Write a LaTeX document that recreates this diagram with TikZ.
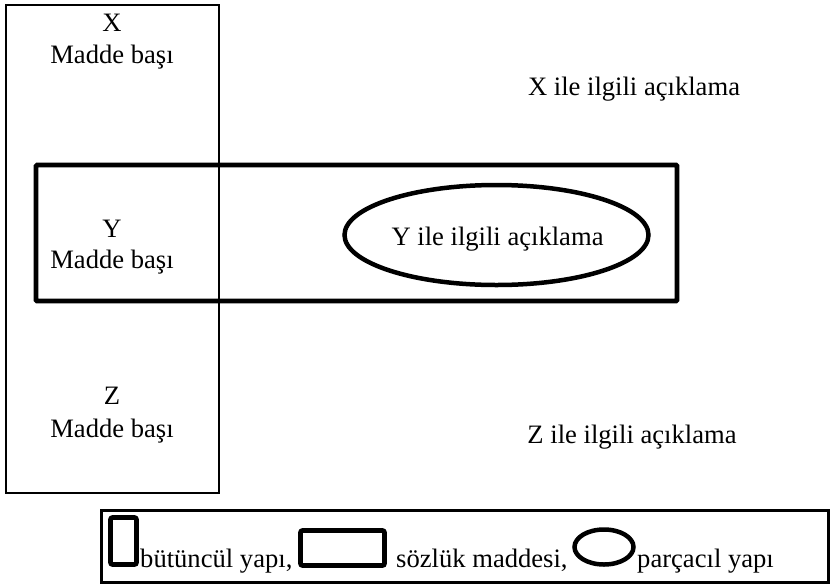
\documentclass[tikz,border=0pt]{standalone}
\usepackage{fontspec}
\setmainfont{Liberation Serif}
\usetikzlibrary{shapes.geometric}
\begin{document}
\begin{tikzpicture}[x=1pt,y=-1pt,
  thinbox/.style={draw,line width=1.9pt},
  thickbox/.style={draw,line width=4.6pt,rounded corners=1pt},
  lbl/.style={inner sep=0pt,font=\fontsize{26.6}{30}\selectfont,anchor=base},
  leg/.style={inner sep=0pt,font=\fontsize{26.6}{30}\selectfont,anchor=base west},
  legbox/.style={draw,line width=3pt},
  legthick/.style={draw,line width=4.6pt,rounded corners=2pt}]
\useasboundingbox (0,0) rectangle (830,587);
\draw[thinbox] (6,5) rectangle (219,493);
\draw[thickbox] (36,165) rectangle (677,301);
\node[ellipse,draw,line width=4.5pt,minimum width=304pt,minimum height=100pt] (ye) at (496.5,235) {};
\node[lbl] (x) at (112,31) {X};
\node[lbl] (xm) at (112,63) {Madde başı};
\node[lbl] (xa) at (634,95) {X ile ilgili açıklama};
\node[lbl] (y) at (112,237) {Y};
\node[lbl] (ym) at (112,268) {Madde başı};
\node[lbl] (ya) at (497.5,245) {Y ile ilgili açıklama};
\node[lbl] (z) at (112,404) {Z};
\node[lbl] (zm) at (112,437) {Madde başı};
\node[lbl] (za) at (632,443) {Z ile ilgili açıklama};
% legend
\draw[legbox] (101,510) rectangle (828,582);
\draw[legthick] (110.5,517.5) rectangle (136.5,564.5);
\node[leg] (l1) at (140,567) {bütüncül yapı,};
\draw[legthick] (300.5,530.5) rectangle (384.5,565.5);
\node[leg] (l2) at (396,567) {sözlük maddesi,};
\node[ellipse,draw,line width=4.5pt,minimum width=59pt,minimum height=35pt] (le) at (604,547) {};
\node[leg] (l3) at (637,567) {parçacıl yapı};
\end{tikzpicture}
\end{document}
